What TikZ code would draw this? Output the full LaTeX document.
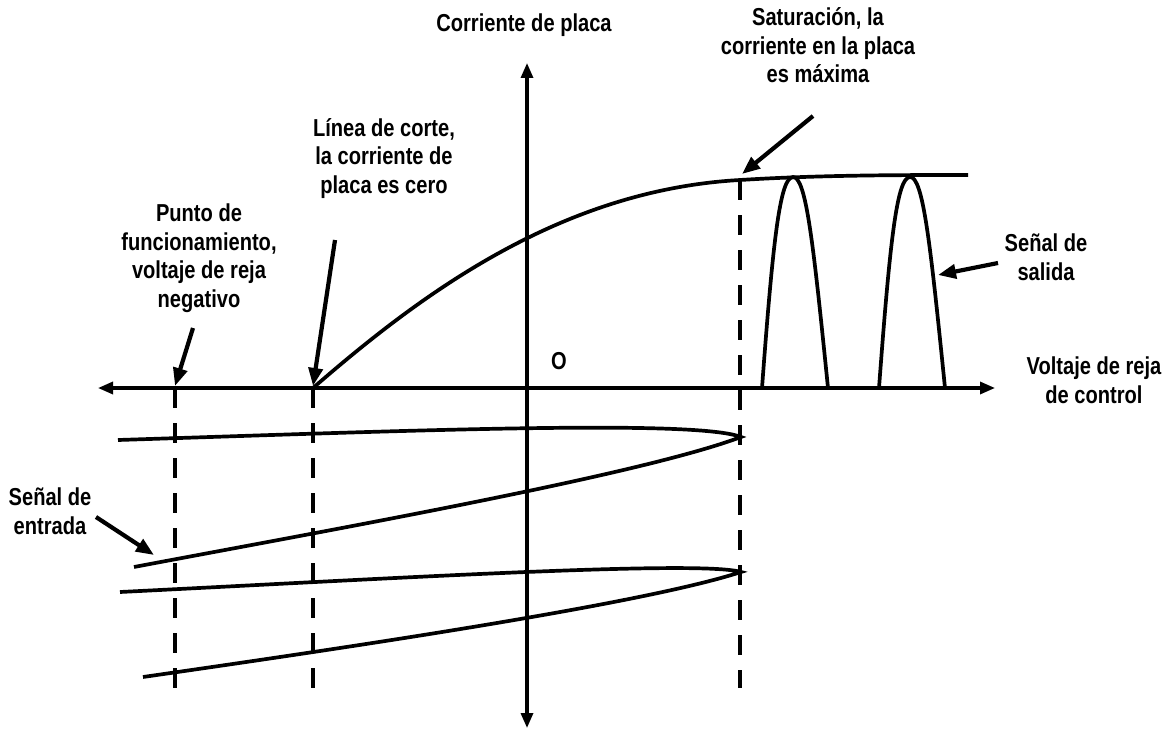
\documentclass[tikz,border=0pt]{standalone}
\usepackage{fontspec}
\usetikzlibrary{arrows.meta}
\newfontfamily\labfam[FakeStretch=0.82]{Liberation Sans}
\newcommand\labfont{\labfam\bfseries\fontsize{24.5}{28.5}\selectfont}
\begin{document}
\begin{tikzpicture}[x=1pt,y=-1pt,
  axisline/.style={line width=3.2pt},
  curveline/.style={line width=3.7pt},
  dashline/.style={line width=3.4pt, dash pattern=on 20pt off 15pt},
  ann/.style={line width=4.2pt, -{Triangle[length=18pt,width=14pt]}},
  lab/.style={font=\labfont, align=center, anchor=base, inner sep=0pt}]
\useasboundingbox (0,0) rectangle (1164,733);
\fill[white] (0,0) rectangle (1164,733);

% axes
\coordinate (xl) at (98,388);
\coordinate (xr) at (995,388);
\coordinate (yb) at (527,728);
\coordinate (yt) at (527,63);
\draw[axisline, {Triangle[length=15pt,width=12pt]}-{Triangle[length=15pt,width=12pt]}] (xl) -- (xr);
\draw[axisline, {Triangle[length=15pt,width=12pt]}-{Triangle[length=15pt,width=12pt]}] (yb) -- (yt);

% dashed lines
\coordinate (d1t) at (175,388); \coordinate (d1b) at (175,690);
\coordinate (d2t) at (313,388); \coordinate (d2b) at (313,690);
\coordinate (d3t) at (740,180); \coordinate (d3b) at (740,688);
\draw[dashline] (d1t) -- (d1b);
\draw[dashline] (d2t) -- (d2b);
\draw[dashline] (d3t) -- (d3b);

% transfer curve
\coordinate (c0) at (313,388);
\coordinate (c1) at (740,180);
\coordinate (c2) at (968,175);
\draw[curveline] (c0) .. controls (420,295) and (560,190) .. (c1)
                      .. controls (820,175) and (900,175) .. (c2);

% output pulses
\coordinate (p1a) at (762,388); \coordinate (p1m) at (793,177); \coordinate (p1b) at (828,388);
\coordinate (p2a) at (879,388); \coordinate (p2m) at (910,177); \coordinate (p2b) at (945,388);
\draw[curveline] (p1a) .. controls (773,240) and (780,177) .. (p1m)
                       .. controls (806,177) and (813,240) .. (p1b);
\draw[curveline] (p2a) .. controls (890,240) and (897,177) .. (p2m)
                       .. controls (923,177) and (930,240) .. (p2b);

% input signal
\coordinate (s1a) at (118,440); \coordinate (s1t) at (741,437); \coordinate (s1b) at (134,567);
\coordinate (s2a) at (120,592); \coordinate (s2t) at (741,572); \coordinate (s2b) at (143,677);
\draw[curveline] (s1a) .. controls (400,431) and (695,419) .. (s1t)
                       .. controls (640,475) and (330,530) .. (s1b);
\draw[curveline] (s2a) .. controls (400,578) and (700,560) .. (s2t)
                       .. controls (640,605) and (330,650) .. (s2b);

% labels (anchor = baseline of last line)
\node[lab] (cp)  at (524,32)  {Corriente de placa};
\node[lab] (sat) at (818,83)  {Saturación, la\\corriente en la placa\\es máxima};
\node[lab] (lin) at (384,193) {Línea de corte,\\la corriente de\\placa es cero};
\node[lab] (pun) at (199,307) {Punto de\\funcionamiento,\\voltaje de reja\\negativo};
\node[lab] (sal) at (1046,280) {Señal de\\salida};
\node[lab] (ent) at (50,534)  {Señal de\\entrada};
\node[lab] (vol) at (1094,403) {Voltaje de reja\\de control};
\node[lab] (o)   at (559,369) {O};

% annotation arrows
\coordinate (a1s) at (193,328); \coordinate (a1t) at (175,386);
\coordinate (a2s) at (335,240); \coordinate (a2t) at (313,386);
\coordinate (a3s) at (813,116); \coordinate (a3t) at (742,174);
\coordinate (a4s) at (998,263); \coordinate (a4t) at (938,275);
\coordinate (a5s) at (96,517);  \coordinate (a5t) at (154,555);
\draw[ann] (a1s) -- (a1t);
\draw[ann] (a2s) -- (a2t);
\draw[ann] (a3s) -- (a3t);
\draw[ann] (a4s) -- (a4t);
\draw[ann] (a5s) -- (a5t);
\end{tikzpicture}
\end{document}
